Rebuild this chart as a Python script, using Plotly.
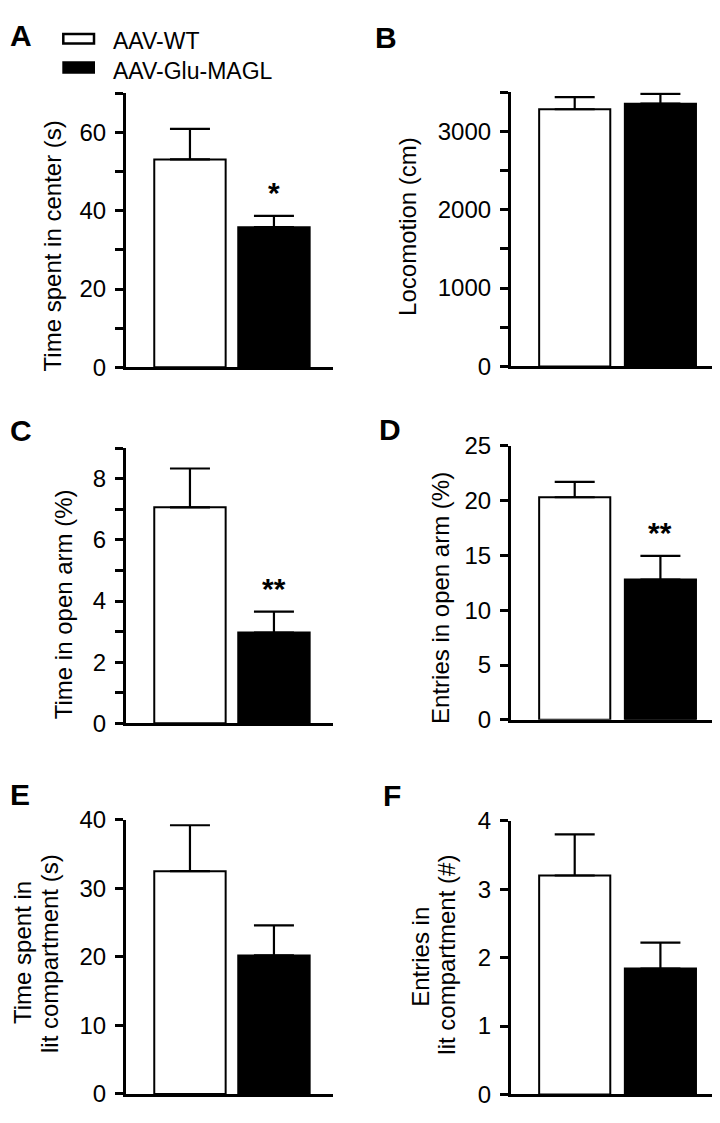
import plotly.graph_objects as go

# The page adds an 8px body margin; a 704x1107 figure fills the 720x1123 window exactly.
W, H = 704, 1107
OFF = 8
FONT = "Liberation Sans, Arial, Helvetica, sans-serif"

# ---------------- data ----------------
groups = ["AAV-WT", "AAV-Glu-MAGL"]
bar_fill = ["white", "black"]

panel_letters = ["A", "B", "C", "D", "E", "F"]
ylabels = [
    ["Time spent in center (s)"],
    ["Locomotion (cm)"],
    ["Time in open arm (%)"],
    ["Entries in open arm (%)"],
    ["Time spent in", "lit compartment (s)"],
    ["Entries in", "lit compartment (#)"],
]
mean_wt = [53.1, 3283, 7.07, 20.3, 32.5, 3.2]
sem_wt = [7.8, 155, 1.27, 1.4, 6.7, 0.6]
mean_magl = [35.8, 3354, 2.97, 12.8, 20.2, 1.84]
sem_magl = [2.9, 125, 0.68, 2.15, 4.4, 0.38]
sig_magl = ["*", "", "**", "**", "", ""]
y_max = [70, 3500, 9, 25, 40, 4]
y_major = [20, 1000, 2, 5, 10, 1]
y_minor = [10, 500, 1, 5, 10, 1]

# ---------------- layout geometry (window pixels) ----------------
def px(x):
    return (x - OFF) / W

def py(y):
    return 1 - (y - OFF) / H

col_x = [(125.7, 333.0), (510.7, 712.0)]
col_xrange = [(-0.765, 1.703), (-0.747, 1.602)]
col_barw = [0.85, 0.83]
row_y = [(81, 362), (80, 361), (445, 726.7), (442.3, 723.3), (825.7, 1106.7), (826.7, 1107.3)]

letter_pos = [(8, 22), (373, 23.5), (8, 427), (377, 426), (8, 799.5), (381, 801)]
title_pos = [
    [(52.5, 237.5)],
    [(407.5, 217.5)],
    [(63.8, 605)],
    [(440.3, 598)],
    [(22.0, 962.3), (48.8, 962.5)],
    [(420.3, 965.8), (447.0, 964)],
]

fig = go.Figure()
annotations = []
layout_axes = {}

for i in range(6):
    col = i % 2
    n = "" if i == 0 else str(i + 1)
    xa, ya = "x" + n, "y" + n
    means = [mean_wt[i], mean_magl[i]]
    sems = [sem_wt[i], sem_magl[i]]
    for g in range(2):
        fig.add_trace(go.Bar(
            x=[g], y=[means[g]], width=col_barw[col],
            name=groups[g], showlegend=False,
            marker=dict(color=bar_fill[g], line=dict(color="black", width=2)),
            error_y=dict(type="data", array=[sems[g]], arrayminus=[0], symmetric=False,
                         color="black", thickness=2.2, width=20),
            xaxis=xa, yaxis=ya,
        ))
    for g, s in enumerate(["", sig_magl[i]]):
        if s:
            annotations.append(dict(
                x=g, y=means[g] + sems[g], xref=xa, yref=ya, text=s, showarrow=False,
                xanchor="center", yanchor="middle", yshift=23,
                font=dict(family=FONT, size=30, color="black", weight="bold"),
            ))
    x0, x1 = col_x[col]
    yt, yb = row_y[i]
    layout_axes["xaxis" + n] = dict(
        domain=[px(x0), min(1.0, px(x1))], range=list(col_xrange[col]), anchor=ya,
        showline=True, linecolor="black", linewidth=2.5, ticks="",
        showticklabels=False, showgrid=False, zeroline=False, fixedrange=True,
    )
    yax = dict(
        domain=[py(yb), py(yt)], range=[0, y_max[i]], anchor=xa,
        showline=True, linecolor="black", linewidth=2.5,
        tick0=0, dtick=y_major[i], ticks="outside", ticklen=8, tickwidth=2.5,
        tickcolor="black", ticklabelstandoff=4,
        tickfont=dict(family=FONT, size=24, color="black"),
        showgrid=False, zeroline=False, fixedrange=True,
    )
    if y_minor[i] != y_major[i]:
        yax["minor"] = dict(tick0=0, dtick=y_minor[i], ticks="outside", ticklen=8,
                            tickwidth=2.5, tickcolor="black", showgrid=False)
    layout_axes["yaxis" + n] = yax

    lx, ly = letter_pos[i]
    annotations.append(dict(
        x=px(lx), y=py(ly), xref="paper", yref="paper", text=panel_letters[i],
        showarrow=False, xanchor="left", yanchor="middle",
        font=dict(family=FONT, size=30, color="black", weight="bold"),
    ))
    for line, (tx, ty) in zip(ylabels[i], title_pos[i]):
        annotations.append(dict(
            x=px(tx), y=py(ty), xref="paper", yref="paper", text=line,
            showarrow=False, textangle=-90, xanchor="center", yanchor="middle",
            font=dict(family=FONT, size=24, color="black"),
        ))

# legend drawn at the top of panel A
legend_boxes = [(63.3, 20.2, 94.0, 30.0), (62.3, 48.3, 95.0, 61.0)]
legend_text_y = [27.8, 57.8]
shapes = []
for g in range(2):
    bx0, by0, bx1, by1 = legend_boxes[g]
    shapes.append(dict(
        type="rect", xref="paper", yref="paper",
        x0=px(bx0), x1=px(bx1), y0=py(by1), y1=py(by0),
        fillcolor=bar_fill[g], line=dict(color="black", width=2.5 if g == 0 else 0),
    ))
    annotations.append(dict(
        x=px(110.5), y=py(legend_text_y[g]), xref="paper", yref="paper", text=groups[g],
        showarrow=False, xanchor="left", yanchor="middle",
        font=dict(family=FONT, size=23, color="black"),
    ))

fig.update_layout(
    width=W, height=H, margin=dict(l=0, r=0, t=0, b=0),
    paper_bgcolor="white", plot_bgcolor="white",
    barmode="overlay", showlegend=False,
    annotations=annotations, shapes=shapes,
    font=dict(family=FONT, color="black"),
    **layout_axes,
)

fig.write_html("out.html", config={"displayModeBar": False})
